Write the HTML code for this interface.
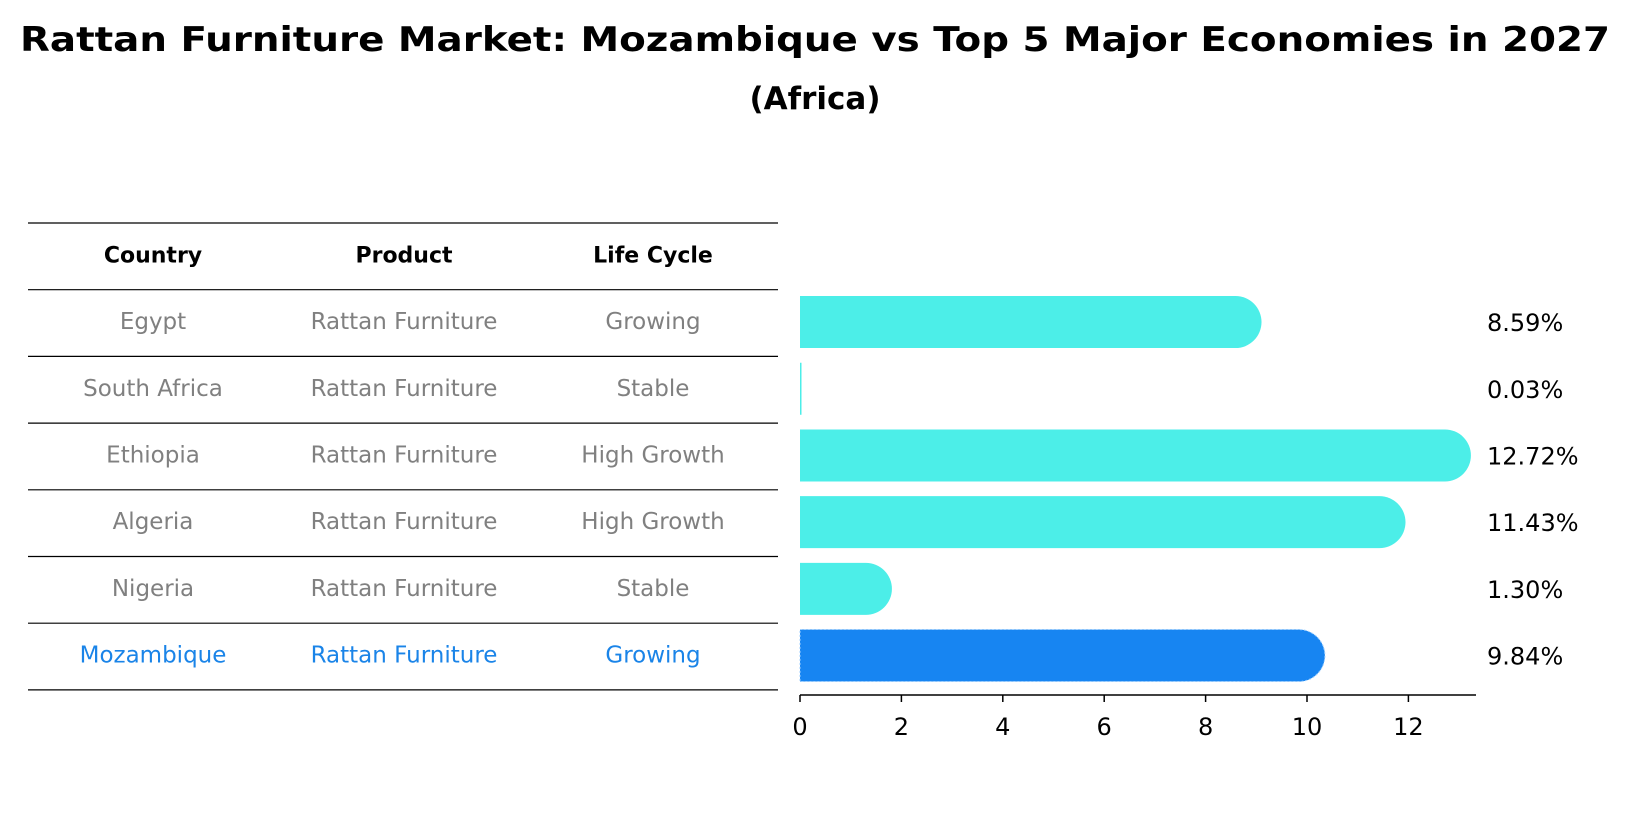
<!DOCTYPE html>
<html><head><meta charset="utf-8"><style>
body{margin:0;background:#fff;font-family:"DejaVu Sans","Liberation Sans",sans-serif;}
svg{display:block}
</style></head><body>
<svg width="1631" height="823" viewBox="0 0 1631 823" xmlns="http://www.w3.org/2000/svg" font-family="DejaVu Sans, Liberation Sans, sans-serif">
<text x="815" y="51" text-anchor="middle" font-size="34" font-weight="bold" textLength="1590" lengthAdjust="spacingAndGlyphs">Rattan Furniture Market: Mozambique vs Top 5 Major Economies in 2027</text>
<text x="815" y="109" text-anchor="middle" font-size="31" font-weight="bold">(Africa)</text>
<g id="table"></g>
<g id="bars"></g>
</svg>
<script>
const countries=["Egypt","South Africa","Ethiopia","Algeria","Nigeria","Mozambique"];
const products=["Rattan Furniture","Rattan Furniture","Rattan Furniture","Rattan Furniture","Rattan Furniture","Rattan Furniture"];
const lifeCycles=["Growing","Stable","High Growth","High Growth","Stable","Growing"];
const values=[8.59,0.03,12.72,11.43,1.30,9.84];
const tickLabels=[0,2,4,6,8,10,12];
const NS="http://www.w3.org/2000/svg";
function mk(tag,attrs,parent){const e=document.createElementNS(NS,tag);for(const k in attrs)e.setAttribute(k,attrs[k]);parent.appendChild(e);return e;}
const table=document.getElementById('table');
const bars=document.getElementById('bars');
const x0=800,pxPerUnit=50.7;
const xs=v=>x0+v*pxPerUnit;
const rowH=66.7,firstLine=223;
const rowY=i=>firstLine+rowH*(i+1)+rowH/2;
const cols=[153,404,653];
for(let i=0;i<=7;i++){
  const y=firstLine+rowH*i;
  const l=mk('line',{x1:28,x2:778,y1:y,y2:y,stroke:'#000','stroke-width':1.2},table);
  
  
}
["Country","Product","Life Cycle"].forEach((h,j)=>{
  const t=mk('text',{x:cols[j],y:firstLine+rowH/2+6,'text-anchor':'middle','font-size':22,'font-weight':'bold'},table);
  t.textContent=h;
  
  
});
countries.forEach((c,i)=>{
  const col=i===countries.length-1?'#1a84e8':'#808080';
  [c,products[i],lifeCycles[i]].forEach((s,j)=>{
    const t=mk('text',{x:cols[j],y:rowY(i)+6,'text-anchor':'middle','font-size':23,fill:col},table);
    t.textContent=s;
    
    
  });
  const y=rowY(i)-1, h=52, r=h/2;
  const isM=i===countries.length-1;
  const fill=isM?'#1785f2':'#4ceee8';
  const xe=xs(values[i]);
  const w=xe-x0;
  const g=mk('g',{},bars);
  
  
  if(w>3){
    const d=`M${x0},${y-r} L${xe},${y-r} A${r},${r} 0 0 1 ${xe},${y+r} L${x0},${y+r} Z`;
    const p=mk('path',{d:d,fill:fill},g);
    if(isM){p.setAttribute('stroke','#9fd0ff');p.setAttribute('stroke-width','1');p.setAttribute('stroke-dasharray','2 2');}
  } else {
    mk('rect',{x:x0,y:y-r,width:1.5,height:h,fill:fill},g);
  }
  const vt=mk('text',{x:1487,y:y+9,'font-size':24},bars);
  vt.textContent=values[i].toFixed(2)+'%';
  
  
});
const ax=mk('line',{x1:x0,x2:1476,y1:695,y2:695,stroke:'#000','stroke-width':1.5},bars);


tickLabels.forEach(v=>{
  const tk=mk('line',{x1:xs(v),x2:xs(v),y1:695,y2:702,stroke:'#000','stroke-width':1.5},bars);
  
  
  const t=mk('text',{x:xs(v),y:735,'text-anchor':'middle','font-size':24},bars);
  t.textContent=v;
  
  
});
</script>
</body></html>
